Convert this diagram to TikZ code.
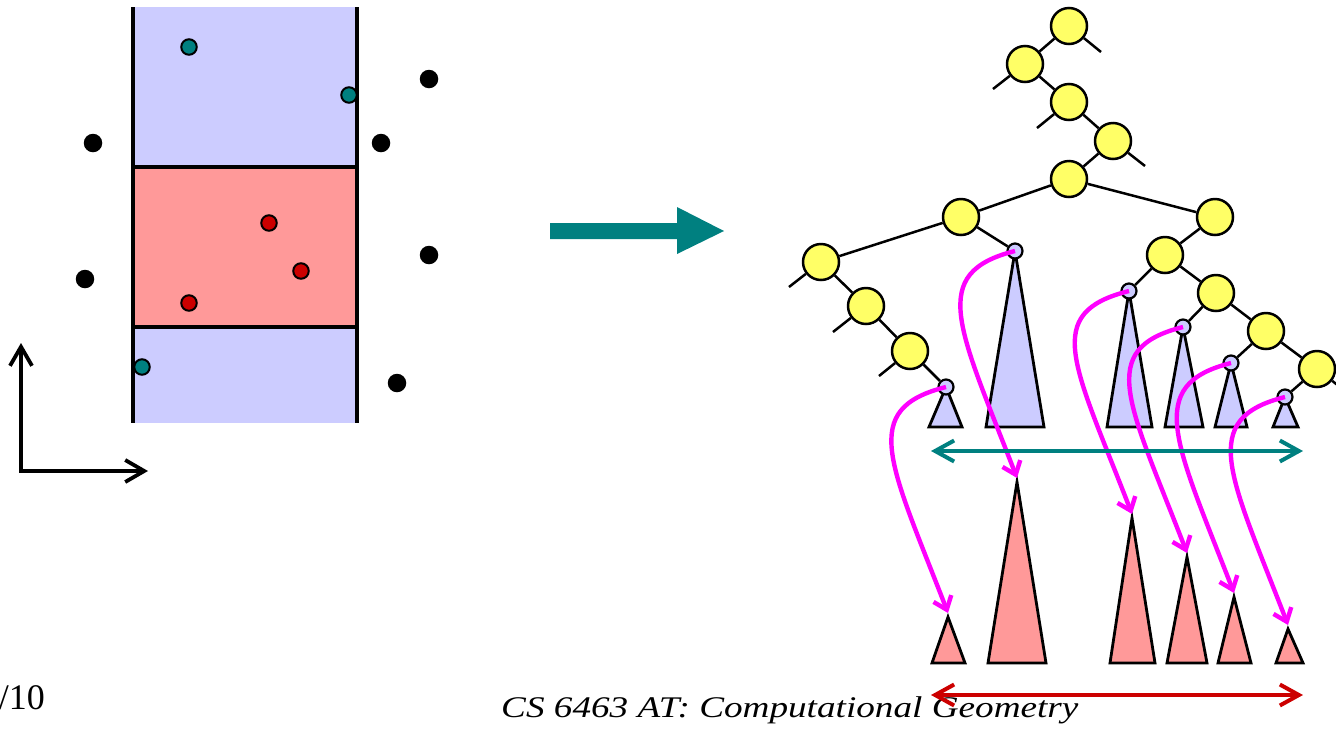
\documentclass[tikz,border=0pt]{standalone}
\usepackage{fontspec}
\setmainfont{Liberation Serif}
\usetikzlibrary{arrows.meta}
\definecolor{yel}{HTML}{FFFF66}
\definecolor{lblue}{HTML}{CCCCFF}
\definecolor{lpink}{HTML}{FF9999}
\definecolor{dred}{HTML}{CC0000}
\definecolor{tealc}{HTML}{008080}
\definecolor{mag}{HTML}{FF00FF}
\begin{document}
\begin{tikzpicture}[x=1pt,y=-1pt,
  ynode/.style={circle,draw,line width=2.5pt,fill=yel,minimum size=36pt,inner sep=0pt},
  snode/.style={circle,draw,line width=2.2pt,fill=lblue,minimum size=15pt,inner sep=0pt},
  bdot/.style={circle,fill=black,minimum size=18.5pt,inner sep=0pt},
  cdot/.style={circle,draw,line width=2pt,fill=#1,minimum size=15.5pt,inner sep=0pt},
  tedge/.style={line width=2.5pt},
  btri/.style={draw,line width=2.8pt,fill=lblue,line join=miter},
  ptri/.style={draw,line width=2.8pt,fill=lpink,line join=miter},
  parrow/.style={draw=mag,line width=4.4pt,-{Straight Barb[length=12pt,width=19pt]}},
  darrow/.style={line width=4pt,{Straight Barb[length=19pt,width=21pt]}-{Straight Barb[length=19pt,width=21pt]}},
  axisline/.style={line width=3.8pt,{Straight Barb[length=19pt,width=22pt]}-{Straight Barb[length=19pt,width=22pt]}},
  stripline/.style={line width=3.4pt},
]
\useasboundingbox (0,0) rectangle (1336,729);

% ---------- left panel ----------
\fill[lblue] (133,7) rectangle (357,167);
\fill[lpink] (133,167) rectangle (357,327);
\fill[lblue] (133,327) rectangle (357,423);
\draw[stripline] (133,167) -- (357,167);
\draw[stripline] (133,327) -- (357,327);
\draw[stripline] (133,7) -- (133,423);
\draw[stripline] (357,7) -- (357,423);

\node[cdot=tealc] (c1) at (189,47) {};
\node[cdot=tealc] (c2) at (349,95) {};
\node[cdot=tealc] (c3) at (142,367) {};
\node[cdot=dred] (r1) at (269,223) {};
\node[cdot=dred] (r2) at (301,271) {};
\node[cdot=dred] (r3) at (189,303) {};
\node[bdot] (b1) at (93,143) {};
\node[bdot] (b2) at (429,79) {};
\node[bdot] (b3) at (381,143) {};
\node[bdot] (b4) at (85,279) {};
\node[bdot] (b5) at (429,255) {};
\node[bdot] (b6) at (397,383) {};

\coordinate (AxY) at (21,343);
\coordinate (AxO) at (21,471);
\coordinate (AxX) at (148,471);
\draw[axisline] (AxY) -- (AxO) -- (AxX);

% ---------- big teal arrow ----------
\fill[tealc] (550,223) -- (677,223) -- (677,207) -- (724,231) -- (677,254) -- (677,239) -- (550,239) -- cycle;

% ---------- tree positions ----------
\coordinate (s1) at (946,387);
\coordinate (s2) at (1015,251);
\coordinate (s3) at (1129,291);
\coordinate (s4) at (1183,327);
\coordinate (s5) at (1231,363);
\coordinate (s6) at (1285,397);

% blue subtree triangles
\path[btri] (s1) -- (929,427) -- (962,427) -- cycle;
\path[btri] (s2) -- (986,427) -- (1044,427) -- cycle;
\path[btri] (s3) -- (1107,427) -- (1152,427) -- cycle;
\path[btri] (s4) -- (1165,427) -- (1203,427) -- cycle;
\path[btri] (s5) -- (1215,427) -- (1247,427) -- cycle;
\path[btri] (s6) -- (1273,427) -- (1298,427) -- cycle;

% pink triangles
\path[ptri] (948,617) -- (932,663) -- (965,663) -- cycle;
\path[ptri] (1017,482) -- (988,663) -- (1046,663) -- cycle;
\path[ptri] (1132,518) -- (1110,663) -- (1155,663) -- cycle;
\path[ptri] (1187,557) -- (1167,663) -- (1207,663) -- cycle;
\path[ptri] (1234,597) -- (1218,663) -- (1251,663) -- cycle;
\path[ptri] (1288,629) -- (1276,663) -- (1303,663) -- cycle;

% yellow nodes
\node[ynode] (Y1) at (1069,26) {};
\node[ynode] (Y2) at (1025,64) {};
\node[ynode] (Y3) at (1069,102) {};
\node[ynode] (Y4) at (1113,141) {};
\node[ynode] (Y5) at (1069,179) {};
\node[ynode] (Y6) at (961,217) {};
\node[ynode] (Y7) at (1215,217) {};
\node[ynode] (Y8) at (821,262) {};
\node[ynode] (Y9) at (866,306) {};
\node[ynode] (Y10) at (910,351) {};
\node[ynode] (Y11) at (1165,255) {};
\node[ynode] (Y12) at (1216,293) {};
\node[ynode] (Y13) at (1266,331) {};
\node[ynode] (Y14) at (1317,369) {};

\node[snode] (S1) at (s1) {};
\node[snode] (S2) at (s2) {};
\node[snode] (S3) at (s3) {};
\node[snode] (S4) at (s4) {};
\node[snode] (S5) at (s5) {};
\node[snode] (S6) at (s6) {};

% stubs
\coordinate (Y1s) at (1101,52);
\coordinate (Y2s) at (993,89);
\coordinate (Y3s) at (1037,128);
\coordinate (Y4s) at (1145,166);
\coordinate (Y8s) at (789,287);
\coordinate (Y9s) at (833,332);
\coordinate (Y10s) at (879,376);
\coordinate (Y14s) at (1349,394);

% tree edges
\draw[tedge] (Y1) -- (Y2);
\draw[tedge] (Y2) -- (Y3);
\draw[tedge] (Y3) -- (Y4);
\draw[tedge] (Y4) -- (Y5);
\draw[tedge] (Y5) -- (Y6);
\draw[tedge] (Y5) -- (Y7);
\draw[tedge] (Y6) -- (Y8);
\draw[tedge] (Y6) -- (S2);
\draw[tedge] (Y8) -- (Y9);
\draw[tedge] (Y9) -- (Y10);
\draw[tedge] (Y10) -- (S1);
\draw[tedge] (Y7) -- (Y11);
\draw[tedge] (Y11) -- (S3);
\draw[tedge] (Y11) -- (Y12);
\draw[tedge] (Y12) -- (S4);
\draw[tedge] (Y12) -- (Y13);
\draw[tedge] (Y13) -- (S5);
\draw[tedge] (Y13) -- (Y14);
\draw[tedge] (Y14) -- (S6);
\draw[tedge] (Y1) -- (Y1s);
\draw[tedge] (Y2) -- (Y2s);
\draw[tedge] (Y3) -- (Y3s);
\draw[tedge] (Y4) -- (Y4s);
\draw[tedge] (Y8) -- (Y8s);
\draw[tedge] (Y9) -- (Y9s);
\draw[tedge] (Y10) -- (Y10s);
\draw[tedge] (Y14) -- (Y14s);

% magenta pointers
\coordinate (p1) at (948,613);
\coordinate (p2) at (1017,478);
\coordinate (p3) at (1132,514);
\coordinate (p4) at (1187,553);
\coordinate (p5) at (1234,593);
\coordinate (p6) at (1288,625);
\draw[parrow] (S1.center) .. controls +(-88,22) and +(-58,-150) .. (p1);
\draw[parrow] (S2.center) .. controls +(-88,22) and +(-58,-150) .. (p2);
\draw[parrow] (S3.center) .. controls +(-88,22) and +(-58,-150) .. (p3);
\draw[parrow] (S4.center) .. controls +(-88,22) and +(-58,-150) .. (p4);
\draw[parrow] (S5.center) .. controls +(-88,22) and +(-58,-150) .. (p5);
\draw[parrow] (S6.center) .. controls +(-88,22) and +(-58,-150) .. (p6);

% range arrows
\coordinate (tL) at (931,451);
\coordinate (tR) at (1303,451);
\coordinate (rL) at (931,695);
\coordinate (rR) at (1303,695);
\draw[darrow,tealc] (tL) -- (tR);

% texts
\node[anchor=base west,inner sep=0pt,font=\fontsize{30}{34}\selectfont\itshape] (foot) at (501,717) {\scalebox{1.24}[1]{CS 6463 AT: Computational Geometry}};
\node[anchor=base east,inner sep=0pt,font=\fontsize{36}{40}\selectfont] (pg) at (45,709) {/10};

\draw[darrow,dred] (rL) -- (rR);
\end{tikzpicture}
\end{document}
